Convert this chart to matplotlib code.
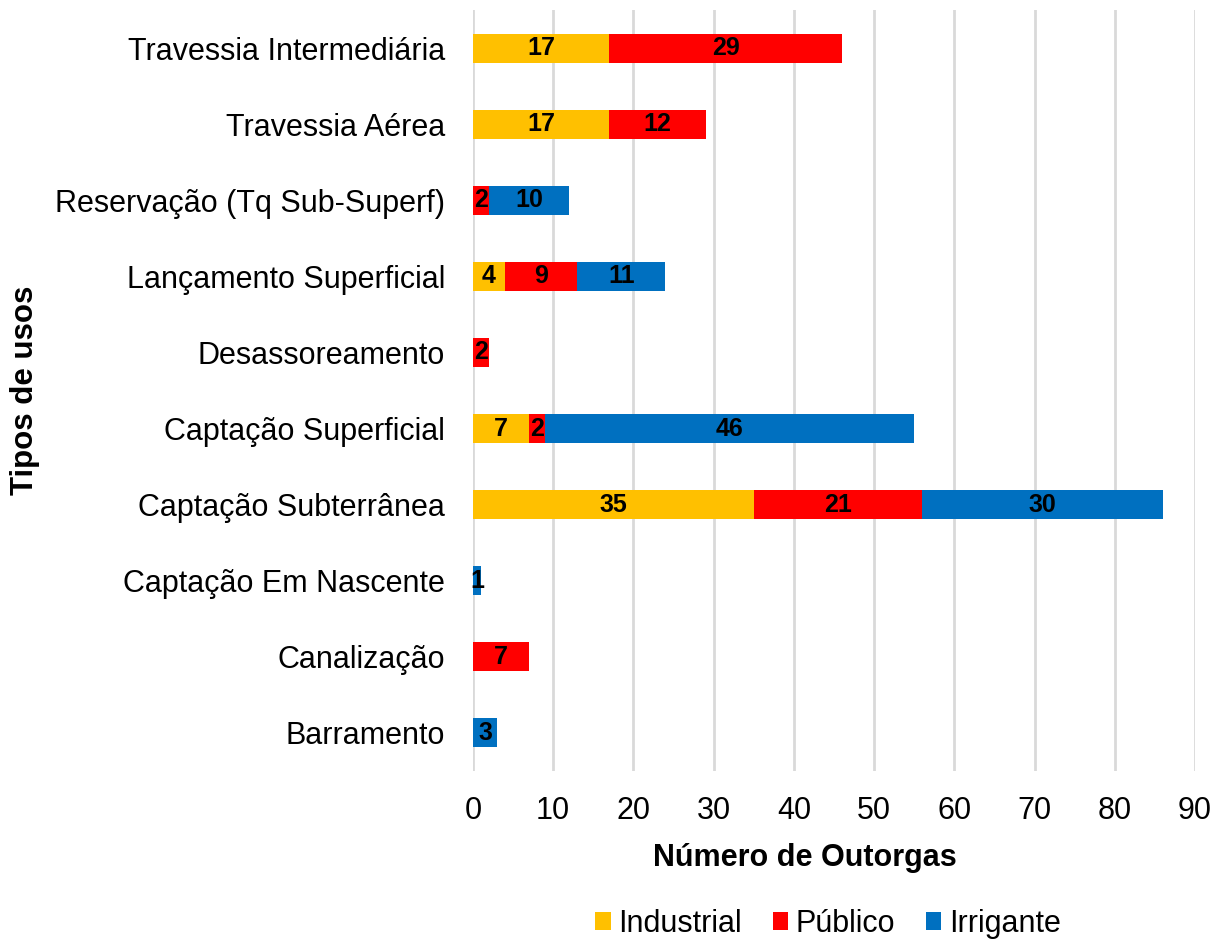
import numpy as np
import matplotlib.pyplot as plt

plt.rcParams['font.family'] = ['Liberation Sans', 'DejaVu Sans']

# tipos de uso, de baixo para cima
usos = ['Barramento', 'Canalização', 'Captação Em Nascente', 'Captação Subterrânea',
        'Captação Superficial', 'Desassoreamento', 'Lançamento Superficial',
        'Reservação (Tq Sub-Superf)', 'Travessia Aérea', 'Travessia Intermediária']
industrial = [0, 0, 0, 35, 7, 0, 4, 0, 17, 17]
publico = [0, 7, 0, 21, 2, 2, 9, 2, 12, 29]
irrigante = [3, 0, 1, 30, 46, 0, 11, 10, 0, 0]

series = [('Industrial', industrial, '#FFC000'),
          ('Público', publico, '#FF0000'),
          ('Irrigante', irrigante, '#0070C0')]

fig = plt.figure(figsize=(12.24, 9.43), dpi=100)
ax = fig.add_axes([0.3864, 0.1824, 0.5899, 0.8070])

y = np.arange(len(usos))
left = np.zeros(len(usos))
for nome, vals, cor in series:
    vals = np.array(vals, dtype=float)
    bars = ax.barh(y, vals, left=left, height=0.38, color=cor, label=nome, zorder=3)
    for b, v in zip(bars, vals):
        if v > 0:
            ax.text(b.get_x() + b.get_width() / 2, b.get_y() + b.get_height() / 2,
                    '%d' % v, ha='center', va='center', fontsize=18,
                    fontweight='bold', color='black', zorder=4)
    left += vals

ax.set_xlim(0, 90)
ax.set_ylim(-0.5, len(usos) - 0.5)
ax.set_xticks(np.arange(0, 91, 10))
ax.set_yticks(y)
ax.set_yticklabels(usos)
ax.tick_params(axis='both', length=0, labelsize=22)
ax.tick_params(axis='y', pad=20)
ax.tick_params(axis='x', pad=18)
ax.grid(axis='x', color='#D9D9D9', linewidth=2, zorder=0)
for s in ax.spines.values():
    s.set_visible(False)

ax.set_xlabel('Número de Outorgas', fontsize=22, fontweight='bold')
ax.xaxis.set_label_coords(0.46, -0.095)
ax.set_ylabel('Tipos de usos', fontsize=22.5, fontweight='bold')
ax.yaxis.set_label_coords(-0.600, 0.5)

ax.legend(loc='center', bbox_to_anchor=(0.492, -0.201), ncol=3, frameon=False,
          fontsize=22, handlelength=0.5, handleheight=0.5, handletextpad=0.26,
          columnspacing=1.0)

plt.savefig('out.png', dpi=100)
